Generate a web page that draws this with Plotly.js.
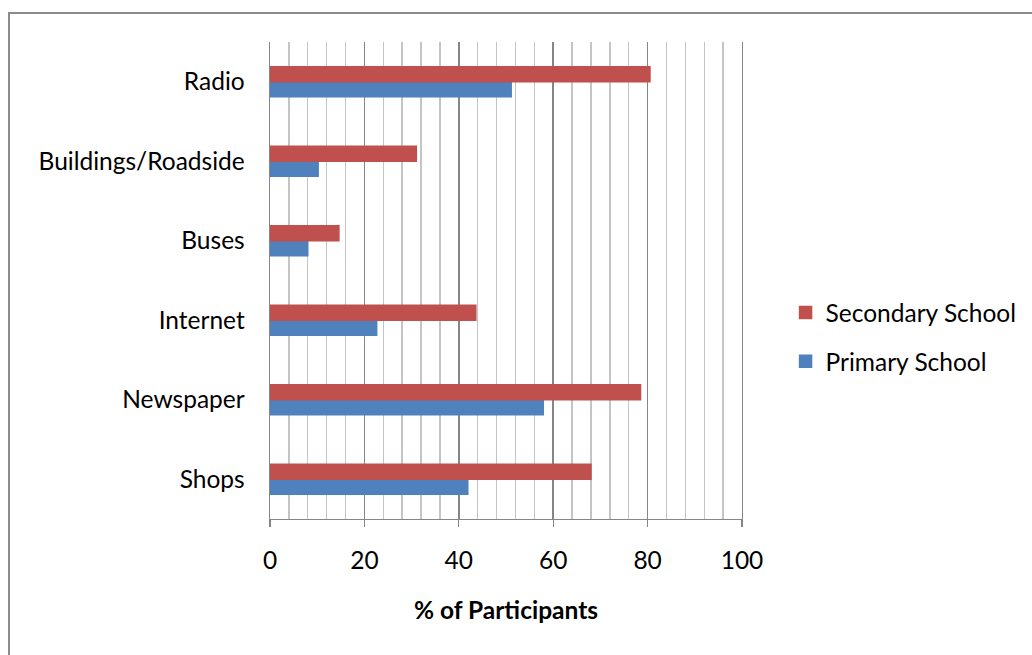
<!DOCTYPE html>
<html>
<head>
<meta charset="utf-8">
<script src="https://cdn.plot.ly/plotly-3.0.1.min.js"></script>
<style>
  html, body { margin: 0; padding: 0; background: #ffffff; overflow: hidden; }
  #frame {
    position: absolute; left: 8px; top: 12px; width: 1100px; height: 700px;
    border-top: 2px solid #8c8c8c; border-left: 2px solid #8c8c8c;
  }
  #chart { position: absolute; left: 0; top: 0; width: 1032px; height: 655px; }
</style>
</head>
<body>
<div id="frame"></div>
<div id="chart"></div>
<script>
// Sources of information, bottom to top on the chart
const categories = ['Shops', 'Newspaper', 'Internet', 'Buses', 'Buildings/Roadside', 'Radio'];
const primarySchool = [41.9, 57.9, 22.6, 8.0, 10.2, 51.1];
const secondarySchool = [68.0, 78.5, 43.6, 14.6, 31.0, 80.5];

const FONT = 'Lato, "Open Sans", sans-serif';
const SIZE = 24.5;
const BLUE = '#4F81BD';
const RED = '#C0504D';

// light minor grid every 4 %, skipping the positions of the major grid
const minorGrid = [];
for (let v = 4; v < 100; v += 4) if (v % 20 !== 0) minorGrid.push(v);

const traces = [
  {
    type: 'bar', orientation: 'h', name: 'Primary School', legendgroup: 'p', legendrank: 2,
    y: categories, x: primarySchool,
    marker: { color: BLUE, line: { color: BLUE, width: 1.5 } }, hoverinfo: 'x+y'
  },
  {
    type: 'bar', orientation: 'h', name: 'Secondary School', legendgroup: 's', legendrank: 1,
    y: categories, x: secondarySchool,
    marker: { color: RED, line: { color: RED, width: 1.5 } }, hoverinfo: 'x+y'
  }
];

const layout = {
  width: 1032, height: 655,
  margin: { l: 270, r: 289, t: 42, b: 136 },
  paper_bgcolor: 'rgba(0,0,0,0)',
  plot_bgcolor: 'rgba(0,0,0,0)',
  barmode: 'group', bargap: 0.62, bargroupgap: 0,
  font: { family: FONT, size: SIZE, color: '#000000' },
  xaxis: {
    range: [0, 100], tick0: 0, dtick: 20,
    showgrid: true, gridcolor: '#868686', gridwidth: 1.5,
    minor: { tickmode: 'array', tickvals: minorGrid, showgrid: true, gridcolor: '#c4c4c4', gridwidth: 1.4, ticks: '' },
    ticks: 'outside', ticklen: 7, tickwidth: 1.4, tickcolor: '#868686',
    ticklabelstandoff: 12,
    showline: true, linecolor: '#868686', linewidth: 1.4,
    zeroline: false, fixedrange: true,
    tickfont: { family: FONT, size: SIZE },
    title: { text: '<b>% of Participants</b>', font: { family: FONT, size: 24.5 }, standoff: 29 }
  },
  yaxis: {
    type: 'category', showgrid: false, zeroline: false,
    showline: true, mirror: true, linecolor: '#868686', linewidth: 1.4,
    ticks: '', ticklabelstandoff: 19, fixedrange: true,
    tickfont: { family: FONT, size: SIZE }
  },
  showlegend: true,
  legend: {
    x: 1.09, xanchor: 'left', y: 0.48, yanchor: 'top',
    traceorder: 'grouped', tracegroupgap: 14,
    font: { family: FONT, size: SIZE }, bgcolor: 'rgba(0,0,0,0)'
  }
};

Plotly.newPlot('chart', traces, layout, { displayModeBar: false, staticPlot: true });
</script>
</body>
</html>
